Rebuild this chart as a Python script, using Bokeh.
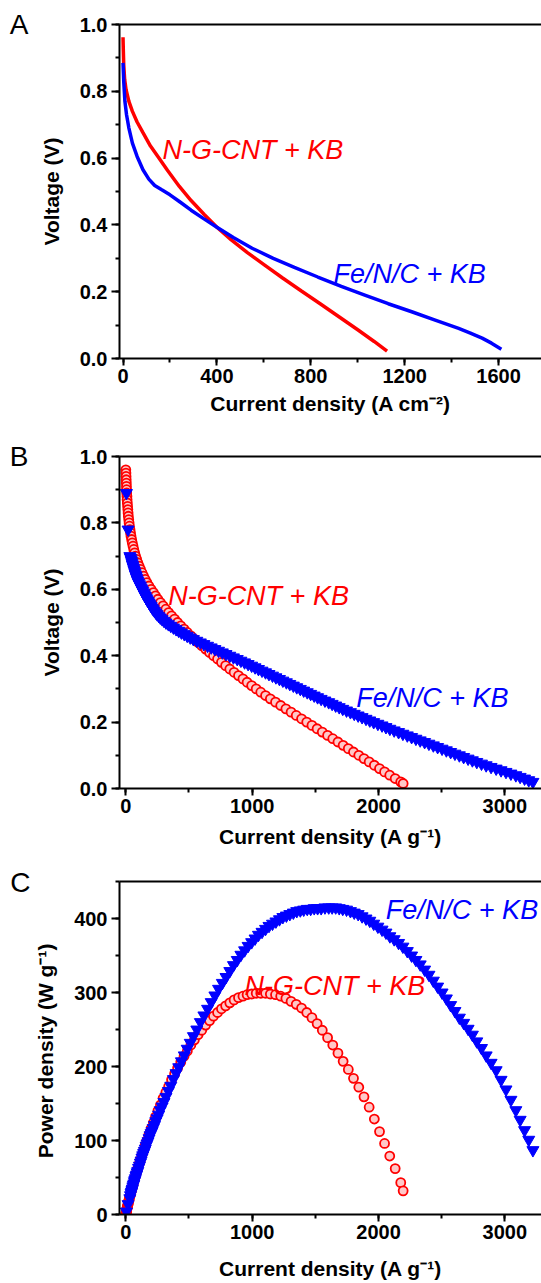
from bokeh.plotting import figure
from bokeh.models import (Range1d, SingleIntervalTicker, FixedTicker, PrintfTickFormatter,
                          CustomJSTickFormatter, LinearAxis, Label)
from bokeh.layouts import column
from bokeh.embed import file_html
from bokeh.resources import INLINE

# ---------------- data ----------------
# Panel A: polarization curves, current density (A cm^-2) vs voltage (V)
a_ngcnt_current = [0, 1, 3, 7, 13, 25, 40, 60, 85, 117, 150, 190, 240, 290, 345, 400, 460, 530,
                   605, 680, 760, 840, 920, 1000, 1070, 1125]
a_ngcnt_voltage = [0.962, 0.93, 0.88, 0.835, 0.805, 0.77, 0.74, 0.708, 0.676, 0.636, 0.603, 0.563,
                   0.515, 0.473, 0.432, 0.393, 0.356, 0.317, 0.279, 0.241, 0.202, 0.164, 0.125,
                   0.086, 0.051, 0.022]
a_fenc_current = [0, 3, 8, 15, 25, 40, 60, 85, 110, 135, 165, 200, 240, 290, 345, 400, 470, 550,
                  640, 730, 830, 930, 1030, 1130, 1230, 1330, 1430, 1480, 1530, 1570, 1612]
a_fenc_voltage = [0.885, 0.83, 0.77, 0.73, 0.69, 0.645, 0.605, 0.565, 0.537, 0.518, 0.505, 0.490,
                  0.470, 0.444, 0.418, 0.393, 0.362, 0.330, 0.300, 0.273, 0.244, 0.216, 0.190,
                  0.164, 0.140, 0.115, 0.090, 0.076, 0.061, 0.046, 0.028]

# Panels B and C: voltage (V), current density (A g^-1), power density (W g^-1)
ngcnt_voltage = [0.96, 0.95, 0.94, 0.93, 0.92, 0.91, 0.90, 0.89, 0.88, 0.87,
                 0.86, 0.85, 0.84, 0.83, 0.82, 0.81, 0.80, 0.79, 0.78, 0.77,
                 0.76, 0.75, 0.74, 0.73, 0.72, 0.71, 0.70, 0.69, 0.68, 0.67,
                 0.66, 0.65, 0.64, 0.63, 0.62, 0.61, 0.60, 0.59, 0.58, 0.57,
                 0.56, 0.55, 0.54, 0.53, 0.52, 0.51, 0.50, 0.49, 0.48, 0.47,
                 0.46, 0.45, 0.44, 0.43, 0.42, 0.41, 0.40, 0.39, 0.38, 0.37,
                 0.36, 0.35, 0.34, 0.33, 0.32, 0.31, 0.30, 0.29, 0.28, 0.27,
                 0.26, 0.25, 0.24, 0.23, 0.22, 0.21, 0.20, 0.19, 0.18, 0.17,
                 0.16, 0.15, 0.14, 0.13, 0.12, 0.11, 0.10, 0.09, 0.08, 0.07,
                 0.06, 0.05, 0.04, 0.03, 0.02, 0.015]
ngcnt_current = [0, 1, 2, 3, 4, 5, 6, 7, 9, 10,
                 12, 14, 16, 18, 20, 23, 26, 29, 33, 37,
                 41, 46, 51, 57, 63, 70, 77, 86, 95, 105,
                 116, 128, 140, 153, 167, 183, 200, 218, 235, 254,
                 274, 295, 317, 339, 362, 386, 410, 435, 461, 487,
                 515, 543, 572, 601, 632, 663, 694, 726, 757, 790,
                 823, 857, 892, 927, 960, 996, 1032, 1068, 1106, 1144,
                 1185, 1226, 1267, 1308, 1349, 1391, 1432, 1473, 1514, 1555,
                 1597, 1638, 1679, 1720, 1761, 1802, 1844, 1885, 1926, 1967,
                 2008, 2048, 2089, 2132, 2176, 2195]
ngcnt_power = [0, 1, 2, 3, 4, 4, 5, 6, 8, 8,
               10, 11, 13, 14, 16, 18, 20, 22, 25, 27,
               30, 33, 36, 40, 44, 48, 52, 57, 62, 68,
               74, 80, 86, 93, 100, 108, 116, 124, 132, 140,
               148, 157, 165, 173, 182, 190, 198, 206, 214, 221,
               229, 236, 243, 249, 256, 262, 268, 273, 278, 282,
               286, 290, 293, 295, 297, 298, 299, 299, 299, 298,
               297, 295, 292, 288, 284, 279, 273, 266, 258, 249,
               239, 229, 218, 207, 196, 184, 172, 159, 145, 129,
               112, 96, 79, 62, 43, 32]

fenc_voltage = [0.89, 0.78,
                0.700, 0.695, 0.690, 0.685, 0.680, 0.675, 0.670, 0.665, 0.660, 0.655,
                0.650, 0.645, 0.640, 0.635, 0.630, 0.625, 0.620, 0.615, 0.610, 0.605,
                0.600, 0.595, 0.590, 0.585, 0.580, 0.575, 0.570, 0.565, 0.560, 0.555,
                0.550, 0.545, 0.540, 0.535, 0.530, 0.525, 0.520, 0.515, 0.510, 0.505,
                0.500, 0.495, 0.490, 0.485, 0.480, 0.475, 0.470, 0.465, 0.460, 0.455,
                0.450, 0.445, 0.440, 0.435, 0.430, 0.425, 0.420, 0.415, 0.410, 0.405,
                0.400, 0.395, 0.390, 0.385, 0.380, 0.375, 0.370, 0.365, 0.360, 0.355,
                0.350, 0.345, 0.340, 0.335, 0.330, 0.325, 0.320, 0.315, 0.310, 0.305,
                0.300, 0.295, 0.290, 0.285, 0.280, 0.275, 0.270, 0.265, 0.260, 0.255,
                0.250, 0.245, 0.240, 0.235, 0.230, 0.225, 0.220, 0.215, 0.210, 0.205,
                0.200, 0.195, 0.190, 0.185, 0.180, 0.175, 0.170, 0.165, 0.160, 0.155,
                0.150, 0.145, 0.140, 0.135, 0.130, 0.125, 0.120, 0.115, 0.110, 0.105,
                0.100, 0.095, 0.090, 0.085, 0.080, 0.075, 0.070, 0.065, 0.060, 0.055,
                0.050, 0.045, 0.040, 0.035, 0.030, 0.025, 0.020]
fenc_current = [5, 18,
                32, 37, 42, 45, 49, 52, 56, 60, 64, 68,
                72, 76, 81, 85, 90, 95, 101, 108, 115, 121,
                128, 134, 141, 147, 154, 161, 168, 176, 184, 192,
                200, 208, 217, 227, 237, 248, 260, 273, 287, 302,
                318, 337, 356, 377, 398, 419, 440, 463, 486, 510,
                535, 562, 590, 618, 647, 676, 705, 734, 764, 793,
                823, 852, 882, 911, 940, 968, 996, 1023, 1050, 1078,
                1106, 1133, 1161, 1188, 1216, 1243, 1271, 1298, 1326, 1353,
                1381, 1408, 1436, 1463, 1491, 1518, 1546, 1576, 1606, 1633,
                1661, 1689, 1717, 1747, 1778, 1808, 1839, 1870, 1901, 1931,
                1962, 1995, 2028, 2059, 2090, 2124, 2159, 2193, 2228, 2262,
                2296, 2330, 2365, 2399, 2434, 2468, 2503, 2537, 2571, 2605,
                2640, 2674, 2709, 2743, 2778, 2815, 2852, 2891, 2931, 2970,
                3009, 3048, 3087, 3121, 3156, 3189, 3222]
fenc_power = [4, 14,
              22, 26, 29, 31, 33, 35, 38, 40, 42, 45,
              47, 49, 52, 54, 57, 59, 63, 66, 70, 73,
              77, 80, 83, 86, 89, 93, 96, 99, 103, 107,
              110, 113, 117, 121, 126, 130, 135, 141, 146, 152,
              159, 167, 174, 183, 191, 199, 207, 215, 224, 232,
              241, 250, 260, 269, 278, 287, 296, 305, 313, 321,
              329, 337, 344, 351, 357, 363, 368, 373, 378, 382,
              386, 390, 393, 396, 399, 402, 404, 406, 408, 410,
              411, 412, 413, 413, 414, 414, 414, 415, 415, 415,
              415, 414, 413, 412, 410, 408, 406, 403, 400, 397,
              393, 389, 385, 381, 376, 372, 367, 362, 356, 350,
              344, 338, 331, 324, 316, 308, 300, 292, 283, 275,
              266, 259, 251, 243, 234, 225, 215, 205, 195, 182,
              169, 155, 141, 128, 114, 101, 87]

series_names = ["N-G-CNT + KB", "Fe/N/C + KB"]
panel_letters = ["A", "B", "C"]

RED = "#ff0000"
BLUE = "#0000ff"
FONT = "Liberation Sans"


def make_fig(height, left, top, bottom, xr, yr, xint, yint, yfmt, xlabel, ylabel,
             label_standoff_x, letter, letter_y, letter_standoff):
    p = figure(width=541, height=height, output_backend="svg", toolbar_location=None,
               x_range=Range1d(*xr), y_range=Range1d(*yr),
               min_border_left=left, min_border_right=0, min_border_top=top,
               min_border_bottom=bottom)
    p.outline_line_color = None
    p.grid.visible = False
    p.background_fill_color = "white"
    p.border_fill_color = "white"
    p.xaxis.ticker = SingleIntervalTicker(interval=xint, num_minor_ticks=2)
    p.yaxis.ticker = SingleIntervalTicker(interval=yint, num_minor_ticks=2)
    p.yaxis.formatter = PrintfTickFormatter(format=yfmt)
    p.xaxis.axis_label = xlabel
    p.yaxis.axis_label = ylabel
    for ax in (p.xaxis[0], p.yaxis[0]):
        ax.axis_line_width = 2
        ax.major_tick_line_width = 2
        ax.minor_tick_line_width = 2
        ax.major_tick_in = 0
        ax.minor_tick_in = 0
        ax.major_label_text_font = FONT
        ax.major_label_text_font_style = "bold"
        ax.major_label_text_font_size = "20px"
        ax.major_label_text_color = "black"
        ax.axis_label_text_font = FONT
        ax.axis_label_text_font_style = "bold"
        ax.axis_label_text_font_size = "21px"
        ax.axis_label_text_color = "black"
    p.xaxis.major_tick_out = 7
    p.xaxis.minor_tick_out = 4
    p.xaxis.major_label_standoff = 3
    p.xaxis.axis_label_standoff = label_standoff_x
    p.yaxis.major_tick_out = 8
    p.yaxis.minor_tick_out = 4
    p.yaxis.major_label_standoff = 4
    p.yaxis.axis_label_standoff = 14
    # top frame line (the right side of the frame lies outside the picture)
    top_axis = LinearAxis(axis_line_width=2, ticker=FixedTicker(ticks=[], minor_ticks=[]),
                          major_tick_line_color=None, minor_tick_line_color=None)
    p.add_layout(top_axis, "above")
    # panel letter, drawn as the single tick label of an outer, invisible left axis
    letter_axis = LinearAxis(ticker=FixedTicker(ticks=[letter_y], minor_ticks=[]),
                             formatter=CustomJSTickFormatter(code='return "%s";' % letter),
                             axis_line_color=None, major_tick_line_color=None,
                             minor_tick_line_color=None, major_tick_out=0,
                             major_label_standoff=letter_standoff,
                             major_label_text_font=FONT, major_label_text_font_size="28px",
                             major_label_text_font_style="normal",
                             major_label_text_color="black")
    p.add_layout(letter_axis, "left")
    return p


def add_text(p, x, y, text, color):
    p.add_layout(Label(x=x, y=y, text=text, text_color=color, text_font=FONT,
                       text_font_size="27px", text_font_style="italic",
                       text_baseline="alphabetic", text_align="left"))


# ---------------- Panel A ----------------
pa = make_fig(430, 119, 24, 72, (-15, 1783), (0, 1.0), 400, 0.2, "%.1f",
              "Current density (A cm\u207b\u00b2)", "Voltage (V)", 6,
              panel_letters[0], 0.999, 8)
pa.line(a_ngcnt_current, a_ngcnt_voltage, line_color=RED, line_width=3.5)
pa.line(a_fenc_current, a_fenc_voltage, line_color=BLUE, line_width=3.5)
add_text(pa, 168, 0.624, series_names[0], RED)
add_text(pa, 897, 0.252, series_names[1], BLUE)

# ---------------- Panel B ----------------
pb = make_fig(420, 119, 26, 62, (-50, 3290), (0, 1.0), 1000, 0.2, "%.1f",
              "Current density (A g\u207b\u00b9)", "Voltage (V)", 9,
              panel_letters[1], 0.999, 8)
pb.scatter(ngcnt_current, ngcnt_voltage, marker="circle", size=9, line_color=RED,
           fill_color="#ffc8c8", line_width=1.8)
pb.scatter(fenc_current, fenc_voltage, marker="inverted_triangle", size=12,
           line_color=BLUE, fill_color=BLUE)
add_text(pb, 335, 0.581, series_names[0], RED)
add_text(pb, 1823, 0.274, series_names[1], BLUE)

# ---------------- Panel C ----------------
pc = make_fig(433, 117, 31, 69, (-50, 3290), (0, 450), 1000, 100, "%d",
              "Current density (A g\u207b\u00b9)", "Power density  (W g\u207b\u00b9)", 15,
              panel_letters[2], 448, 1)
pc.scatter(ngcnt_current, ngcnt_power, marker="circle", size=9, line_color=RED,
           fill_color="#ffc8c8", line_width=1.8)
pc.scatter(fenc_current, fenc_power, marker="inverted_triangle", size=12,
           line_color=BLUE, fill_color=BLUE)
add_text(pc, 2058, 411, series_names[1], BLUE)
add_text(pc, 940, 309, series_names[0], RED)

layout = column(pa, pb, pc, spacing=0)
open("out.html", "w").write(file_html(layout, INLINE))
